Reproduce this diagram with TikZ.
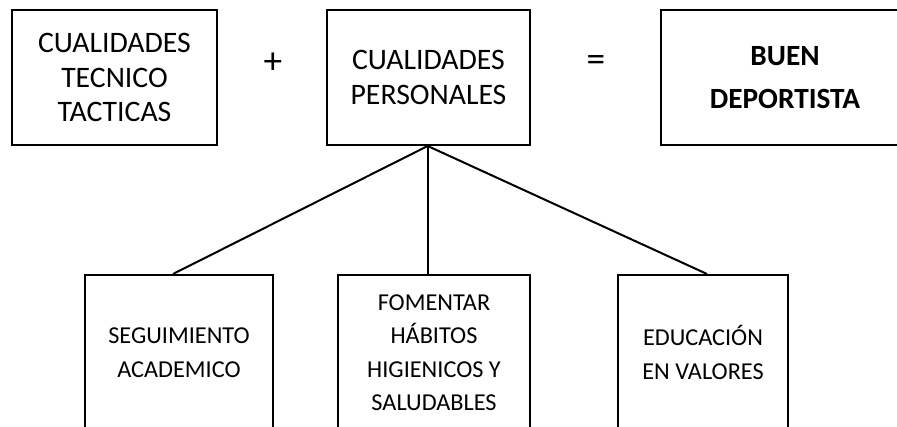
\documentclass[tikz,border=0pt]{standalone}
\usepackage{fontspec}
\setmainfont{Carlito}
\usetikzlibrary{calc}
\begin{document}
\begin{tikzpicture}[x=0.75pt,y=-0.75pt,
  box/.style={draw,line width=1.5pt,rectangle,inner sep=0pt,align=center,minimum height=101.25pt},
  topfont/.style={font=\fontsize{22.3}{26}\selectfont},
  opfont/.style={font=\fontsize{28}{30}\selectfont},
  lowbox/.style={draw,line width=1.5pt,rectangle,inner sep=0pt,align=center,minimum height=116.25pt,font=\fontsize{18.2}{25.1}\selectfont},
  link/.style={line width=1.5pt}]
\useasboundingbox (0,0) rectangle (897,427);
\clip (0,0) rectangle (897,427);
\node[box,topfont,minimum width=153.75pt] (b1) at (114.5,77.5) {CUALIDADES\\TECNICO\\TACTICAS};
\node[box,topfont,minimum width=152.25pt] (b2) at (428.5,77.5) {CUALIDADES\\PERSONALES};
\node[box,font=\bfseries\fontsize{22}{32}\selectfont,minimum width=186pt] (b3) at (785,77.5) {BUEN\\DEPORTISTA};
\node[opfont] (plus) at (273,63) {+};
\node[opfont] (eq) at (596,63) {=};
\node[lowbox,minimum width=141pt] (b4) at (179,352.5) {SEGUIMIENTO\\ACADEMICO};
\node[lowbox,minimum width=144pt] (b5) at (434,352.5) {FOMENTAR\\HÁBITOS\\HIGIENICOS Y\\SALUDABLES};
\node[lowbox,minimum width=127.5pt] (b6) at (703,352.5) {EDUCACIÓN\\EN VALORES};
\coordinate (j) at ($(b2.south)+(-0.8,0)$);
\draw[link] (j) -- ($(b4.north)+(-6,0)$);
\draw[link] (j) -- (j |- b5.north);
\draw[link] (j) -- ($(b6.north)+(4,0)$);
\end{tikzpicture}
\end{document}
